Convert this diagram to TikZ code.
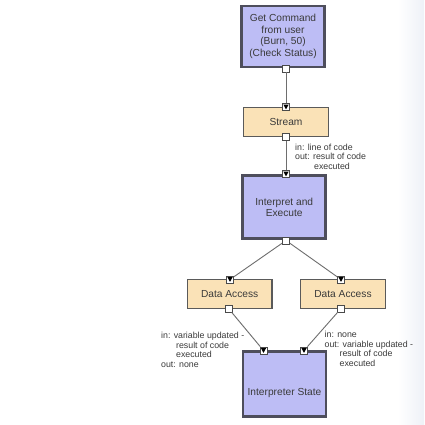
\documentclass[tikz,border=0pt]{standalone}
\usepackage{fontspec}
\setmainfont{Liberation Sans}
\definecolor{procfill}{HTML}{BDBDF5}
\definecolor{boxline}{HTML}{4E4E5C}
\definecolor{datafill}{HTML}{FAE2B7}
\definecolor{dataline}{HTML}{5A5A5A}
\definecolor{portline}{HTML}{4A4A4A}
\definecolor{connline}{HTML}{6E6E6E}
\definecolor{txt}{HTML}{3A3A3A}
\definecolor{edgetint}{HTML}{EEF1F7}
\begin{document}
\begin{tikzpicture}[x=1pt,y=-1pt]
\tikzset{
  procbox/.style={draw=boxline, line width=2.6pt, fill=procfill, inner sep=0pt,
    text=txt, font=\fontsize{10.2}{11.5}\selectfont, align=center},
  databox/.style={draw=dataline, line width=1.3pt, fill=datafill, inner sep=0pt,
    minimum width=84.5pt, minimum height=28.7pt, text=txt,
    font=\fontsize{10.2}{11.5}\selectfont},
  outport/.style={draw=portline, line width=0.8pt, fill=white, minimum size=7pt,
    inner sep=0pt, shape=rectangle},
  inport/.style={outport, path picture={
    \fill[black] ([xshift=-2.6pt,yshift=2.4pt]path picture bounding box.center)
      -- ++(5.2pt,0pt) -- ++(-2.6pt,-4.8pt) -- cycle;}},
  conn/.style={draw=connline, line width=0.9pt},
  lbl/.style={font=\fontsize{8.8}{9.6}\selectfont, align=left, inner sep=0pt,
    anchor=north west, text=txt}
}
\useasboundingbox (0,0) rectangle (424,425);
\fill[white] (0,0) rectangle (424,425);
\shade[left color=white, right color=edgetint] (398,0) rectangle (424,425);
% boxes
\node[procbox, minimum width=83pt, minimum height=61pt] (gc) at (283,36.5)
  {Get Command\\from user\\(Burn, 50)\\(Check Status)};
\node[databox] (st) at (286,122) {Stream};
\node[procbox, minimum width=83pt, minimum height=63.5pt] (ie) at (284.2,207) {};
\node[text=txt, font=\fontsize{10.2}{11.5}\selectfont, align=center] (iet) at (284.2,207.5) {Interpret and\\Execute};
\node[databox] (dal) at (229.7,294) {Data Access};
\node[databox] (dar) at (343,294) {Data Access};
\node[procbox, minimum width=83pt, minimum height=65.5pt] (is) at (284.5,384) {};
\node[text=txt, font=\fontsize{10.2}{11.5}\selectfont] (ist) at (284.5,393) {Interpreter State};
% ports
\node[outport] (gcout) at (286,68.5) {};
\node[inport] (stin) at (286,107) {};
\node[outport] (stout) at (286,137) {};
\node[inport] (iein) at (286,174) {};
\node[outport] (ieout) at (286,240.5) {};
\node[inport] (dalin) at (230,279.5) {};
\node[outport] (dalout) at (228.5,308.5) {};
\node[inport] (darin) at (341,279.5) {};
\node[outport] (darout) at (341,308.5) {};
\node[inport] (isin1) at (263.5,350.5) {};
\node[inport] (isin2) at (304,350.5) {};
% connectors
\draw[conn] (gcout) -- (stin);
\draw[conn] (stout) -- (iein);
\draw[conn] (ieout) -- (dalin);
\draw[conn] (ieout) -- (darin);
\draw[conn] (dalout) -- (isin1);
\draw[conn] (darout) -- (isin2);
% labels
\node[lbl] (l1) at (295,143.5) {in: line of code\\out: result of code\\\hspace*{2.15em}executed};
\node[lbl] (l2) at (161,332) {in: variable updated -\\\hspace*{1.7em}result of code\\\hspace*{1.7em}executed\\out: none};
\node[lbl] (l3) at (324.5,331) {in: none\\out: variable updated -\\\hspace*{1.7em}result of code\\\hspace*{1.7em}executed};
\end{tikzpicture}
\end{document}
